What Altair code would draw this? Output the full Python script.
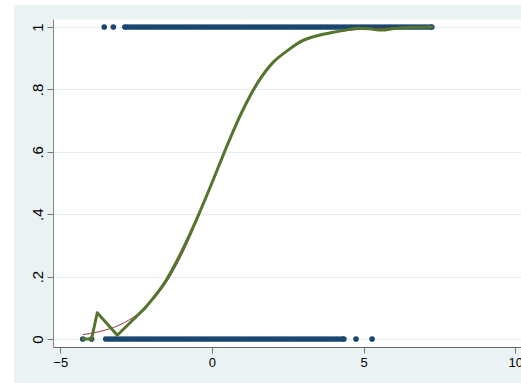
import altair as alt
import pandas as pd

# observed outcome = 0
x_zero = [-4.26, -3.97,
          -3.5, -3.4, -3.3, -3.2, -3.1, -3.0, -2.9, -2.8, -2.7, -2.6, -2.5, -2.4, -2.3,
          -2.2, -2.1, -2.0, -1.9, -1.8, -1.7, -1.6, -1.5, -1.4, -1.3, -1.2, -1.1, -1.0,
          -0.9, -0.8, -0.7, -0.6, -0.5, -0.4, -0.3, -0.2, -0.1, 0.0, 0.1, 0.2, 0.3,
          0.4, 0.5, 0.6, 0.7, 0.8, 0.9, 1.0, 1.1, 1.2, 1.3, 1.4, 1.5, 1.6, 1.7, 1.8,
          1.9, 2.0, 2.1, 2.2, 2.3, 2.4, 2.5, 2.6, 2.7, 2.8, 2.9, 3.0, 3.1, 3.2, 3.3,
          3.4, 3.5, 3.6, 3.7, 3.8, 3.9, 4.0, 4.1, 4.2, 4.3, 4.35,
          4.75, 5.28]
# observed outcome = 1
x_one = [-3.55, -3.25,
         -2.87, -2.8, -2.7, -2.6, -2.5, -2.4, -2.3, -2.2, -2.1, -2.0, -1.9, -1.8, -1.7,
         -1.6, -1.5, -1.4, -1.3, -1.2, -1.1, -1.0, -0.9, -0.8, -0.7, -0.6, -0.5, -0.4,
         -0.3, -0.2, -0.1, 0.0, 0.1, 0.2, 0.3, 0.4, 0.5, 0.6, 0.7, 0.8, 0.9, 1.0, 1.1,
         1.2, 1.3, 1.4, 1.5, 1.6, 1.7, 1.8, 1.9, 2.0, 2.1, 2.2, 2.3, 2.4, 2.5, 2.6,
         2.7, 2.8, 2.9, 3.0, 3.1, 3.2, 3.3, 3.4, 3.5, 3.6, 3.7, 3.8, 3.9, 4.0, 4.1,
         4.2, 4.3, 4.4, 4.5, 4.6, 4.7, 4.8, 4.9, 5.0, 5.1, 5.2, 5.3, 5.4, 5.5, 5.6,
         5.7, 5.8, 5.9, 6.0, 6.1, 6.2, 6.3, 6.4, 6.5, 6.6, 6.7, 6.8, 6.9, 7.0, 7.1,
         7.2, 7.25]

# fitted (logistic) curve
fit_x = [-4.26, -4.0, -3.5, -3.0, -2.5, -2.0, -1.5, -1.0, -0.5, 0.0, 0.5, 1.0, 1.5,
         2.0, 2.5, 3.0, 3.5, 4.0, 4.5, 5.0, 5.5, 6.0, 6.5, 7.25]
fit_y = [0.014, 0.018, 0.029, 0.047, 0.076, 0.119, 0.182, 0.269, 0.378, 0.500, 0.622,
         0.731, 0.818, 0.881, 0.924, 0.953, 0.971, 0.982, 0.989, 0.993, 0.996, 0.997,
         0.998, 0.999]

# smoothed curve
smo_x = [-4.26, -3.97, -3.78, -3.12, -2.70, -2.20, -1.50, -1.00, -0.50, 0.00, 0.50,
         1.00, 1.50, 2.00, 2.50, 3.00, 3.50, 4.00, 4.40, 4.80, 5.20, 5.60, 6.00, 6.50,
         7.25]
smo_y = [0.000, 0.000, 0.084, 0.012, 0.052, 0.100, 0.190, 0.280, 0.385, 0.500, 0.620,
         0.730, 0.820, 0.885, 0.925, 0.957, 0.973, 0.983, 0.990, 0.996, 0.994, 0.990,
         0.995, 0.999, 1.000]

W, H = 468, 328
PAD = {"left": 53, "top": 19, "right": 0, "bottom": 36}

pts = pd.DataFrame({"x": x_zero + x_one, "y": [0] * len(x_zero) + [1] * len(x_one)})
fit = pd.DataFrame({"x": fit_x, "y": fit_y})
smo = pd.DataFrame({"x": smo_x, "y": smo_y})

xscale = alt.Scale(domain=[-5.24, 10.19], nice=False, zero=False)
yscale = alt.Scale(domain=[-0.0256, 1.0256], nice=False, zero=False)

xaxis = alt.Axis(values=[-5, 0, 5, 10], title=None, grid=False, labelFontSize=13,
                 labelColor="#000000", labelFont="Liberation Sans", tickSize=6,
                 tickColor="#777777", domainColor="#666666", labelPadding=3,
                 labelFlush=False)
yaxis = alt.Axis(values=[0, 0.2, 0.4, 0.6, 0.8, 1], title=None, grid=True,
                 gridColor="#E4EDF0", gridWidth=1,
                 labelExpr="datum.value == 0 ? '0' : datum.value == 1 ? '1' : '.' + round(datum.value * 10)",
                 labelAngle=270, labelAlign="center", labelBaseline="alphabetic",
                 labelFontSize=15, labelColor="#000000", labelFont="Liberation Sans",
                 tickSize=6, tickColor="#777777", domainColor="#888888", labelPadding=5,
                 labelFlush=False)

blank = alt.Data(values=[{}])
left_strip = alt.Chart(blank).mark_rect(color="white").encode(
    x=alt.value(-PAD["left"]), x2=alt.value(-PAD["left"] + 14),
    y=alt.value(-PAD["top"]), y2=alt.value(H + PAD["bottom"]))
top_strip = alt.Chart(blank).mark_rect(color="white").encode(
    x=alt.value(-PAD["left"]), x2=alt.value(W),
    y=alt.value(-PAD["top"]), y2=alt.value(-PAD["top"] + 5))

scatter = alt.Chart(pts).mark_circle(size=32, color="#1A476F", opacity=1).encode(
    x=alt.X("x:Q", scale=xscale, axis=xaxis),
    y=alt.Y("y:Q", scale=yscale, axis=yaxis))

red = alt.Chart(fit).mark_line(color="#90353B", strokeWidth=1, interpolate="monotone").encode(
    x=alt.X("x:Q", scale=xscale), y=alt.Y("y:Q", scale=yscale))

green_low = alt.Chart(smo).transform_filter("datum.x <= -2.2").mark_line(
    color="#55752F", strokeWidth=3, strokeJoin="round", strokeCap="round").encode(
    x=alt.X("x:Q", scale=xscale), y=alt.Y("y:Q", scale=yscale))
green_high = alt.Chart(smo).transform_filter("datum.x >= -2.2").mark_line(
    color="#55752F", strokeWidth=3, strokeCap="round", interpolate="monotone").encode(
    x=alt.X("x:Q", scale=xscale), y=alt.Y("y:Q", scale=yscale))

chart = alt.layer(left_strip, top_strip, scatter, red, green_low, green_high).properties(
    width=W, height=H, padding=PAD, background="#EAF2F3",
    autosize=alt.AutoSizeParams(type="none"),
).configure_view(stroke="transparent", fill="white")

chart.save("out.html", embed_options={"renderer": "svg", "actions": False})
